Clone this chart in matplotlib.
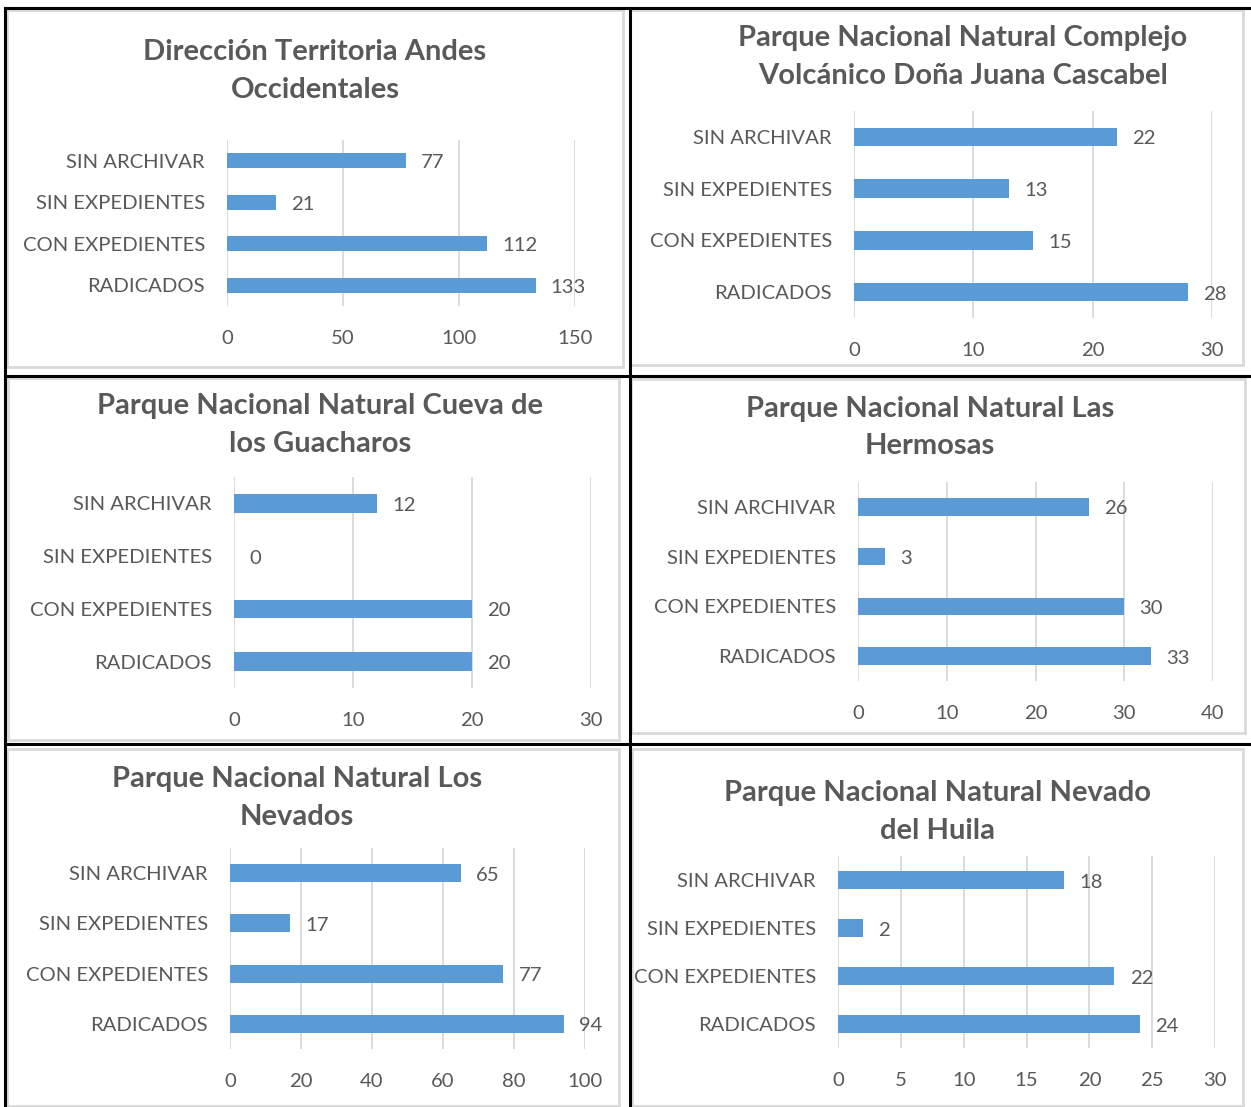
import matplotlib
matplotlib.use("Agg")
import matplotlib.pyplot as plt
from matplotlib.lines import Line2D
from matplotlib.patches import Rectangle

W, H = 1251, 1107
DPI = 100

categories = ["RADICADOS", "CON EXPEDIENTES", "SIN EXPEDIENTES", "SIN ARCHIVAR"]

titles = [
    "Dirección Territoria Andes\nOccidentales",
    "Parque Nacional Natural Complejo\nVolcánico Doña Juana Cascabel",
    "Parque Nacional Natural Cueva de\nlos Guacharos",
    "Parque Nacional Natural Las\nHermosas",
    "Parque Nacional Natural Los\nNevados",
    "Parque Nacional Natural Nevado\ndel Huila",
]
# values ordered as categories (bottom to top)
vals_andes = [133, 112, 21, 77]
vals_dona_juana = [28, 15, 13, 22]
vals_guacharos = [20, 20, 0, 12]
vals_hermosas = [33, 30, 3, 26]
vals_nevados = [94, 77, 17, 65]
vals_huila = [24, 22, 2, 18]
values = [vals_andes, vals_dona_juana, vals_guacharos, vals_hermosas, vals_nevados, vals_huila]

xticks_list = [
    [0, 50, 100, 150],
    [0, 10, 20, 30],
    [0, 10, 20, 30],
    [0, 10, 20, 30, 40],
    [0, 20, 40, 60, 80, 100],
    [0, 5, 10, 15, 20, 25, 30],
]

# layout in pixels: (x_left, x_right, y_top, y_bottom) of plot area
plot_boxes = [
    (227, 575, 140, 306),
    (854, 1212, 111, 318),
    (234, 591, 477, 688),
    (858, 1213, 482, 681),
    (230, 585, 848, 1049),
    (838, 1215, 856, 1048),
]
title_pos = [
    (315, 71),
    (963, 57),
    (320, 425),
    (930, 427.5),
    (297, 798),
    (937, 812),
]
frames = [
    (7, 10, 623, 367),
    (630, 10, 1243, 365),
    (8, 378, 619, 740),
    (631, 379, 1245, 733),
    (7, 749, 619, 1106),
    (632, 749, 1243, 1106),
]

BAR = "#5B9BD5"
TXT = "#595959"
GRID = "#D9D9D9"
FONT = "Lato"

fig = plt.figure(figsize=(W / DPI, H / DPI), dpi=DPI)
fig.patch.set_facecolor("white")

def fx(x):
    return x / W

def fy(y):
    return 1 - y / H

# chart frames
for (x0, y0, x1, y1) in frames:
    fig.add_artist(Rectangle((fx(x0), fy(y1)), fx(x1) - fx(x0), fy(y0) - fy(y1),
                             transform=fig.transFigure, fill=False, ec=GRID, lw=2.0))

# table lines
lines = [
    ((5, 1251), (8, 8)),
    ((5, 1251), (376, 376)),
    ((5, 1251), (744, 744)),
    ((5, 5), (8, 1107)),
    ((630, 630), (8, 1107)),
]
for xs, ys in lines:
    fig.add_artist(Line2D([fx(xs[0]), fx(xs[1])], [fy(ys[0]), fy(ys[1])],
                          transform=fig.transFigure, color="black", lw=2.2))

for i in range(6):
    xl, xr, yt, yb = plot_boxes[i]
    ax = fig.add_axes([fx(xl), fy(yb), fx(xr) - fx(xl), fy(yt) - fy(yb)])
    ticks = xticks_list[i]
    ax.set_xlim(ticks[0], ticks[-1])
    ax.set_ylim(-0.5, 3.5)
    for t in ticks:
        ax.axvline(t, color=GRID, lw=1.3, zorder=0)
    y = list(range(len(categories)))
    ax.barh(y, values[i], height=0.355, color=BAR, zorder=2)
    for yy, v in zip(y, values[i]):
        ax.annotate(str(v), (v, yy), xytext=(11, -1.5), textcoords="offset points",
                    va="center", ha="left", fontsize=14.6, color=TXT, family=FONT,
                    annotation_clip=False)
    ax.set_yticks(y)
    ax.set_yticklabels(categories, fontsize=14.6, color=TXT, family=FONT)
    ax.set_xticks(ticks)
    ax.set_xticklabels([str(t) for t in ticks], fontsize=14.6, color=TXT, family=FONT)
    ax.tick_params(axis="both", length=0)
    ax.tick_params(axis="y", pad=16)
    ax.tick_params(axis="x", pad=17.5)
    for s in ax.spines.values():
        s.set_visible(False)
    ax.patch.set_alpha(0)
    tx, ty = title_pos[i]
    fig.text(fx(tx), fy(ty), titles[i], ha="center", va="center", multialignment="center",
             fontsize=21, fontweight="bold", color=TXT, family=FONT, linespacing=1.54)

fig.savefig("out.png", dpi=DPI, facecolor="white")
